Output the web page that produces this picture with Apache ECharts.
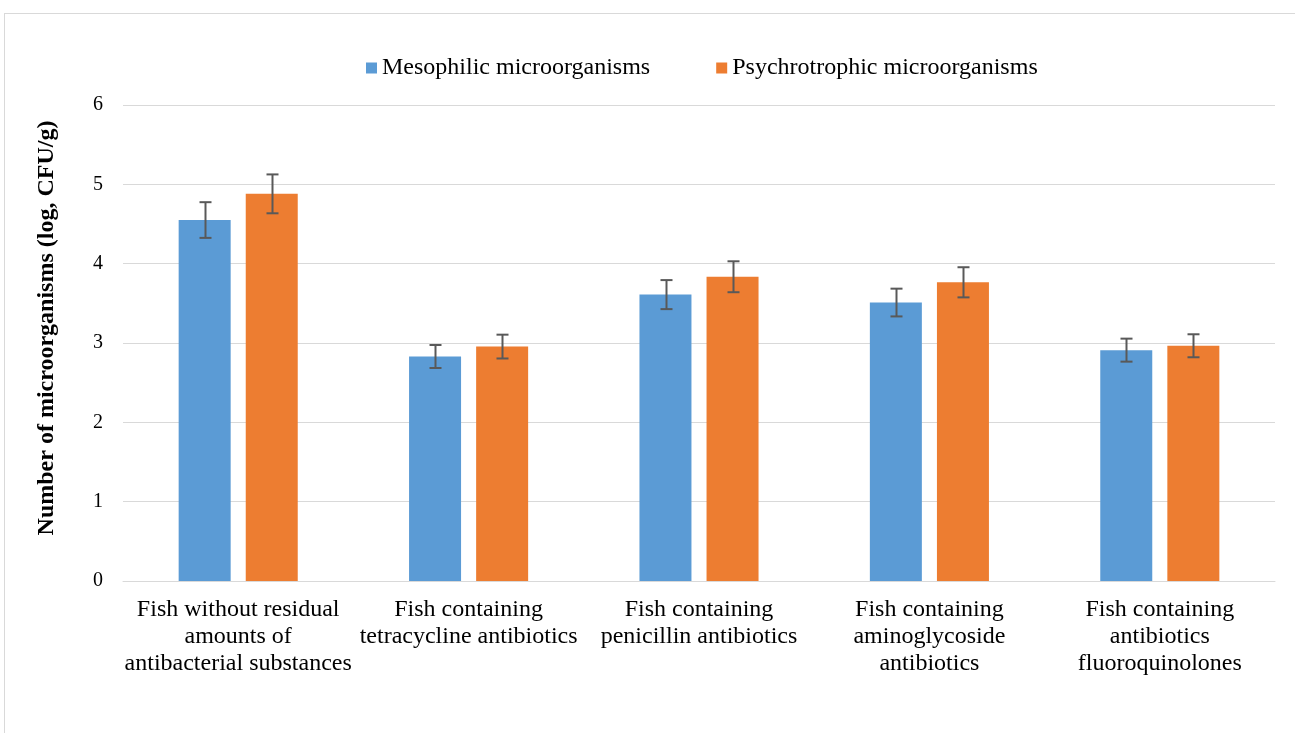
<!DOCTYPE html>
<html><head><meta charset="utf-8">
<script src="https://cdn.jsdelivr.net/npm/echarts@6/dist/echarts.min.js"></script>
<style>
html,body{margin:0;padding:0;background:#fff;}
#frame{position:absolute;left:4px;top:13px;width:1295px;height:730px;border:1px solid #d9d9d9;box-sizing:border-box;}
#c{position:absolute;left:0;top:0;width:1295px;height:733px;}
</style></head>
<body>
<div id="frame"></div>
<div id="c"></div>
<script>
const categories = [
  "Fish without residual\namounts of\nantibacterial substances",
  "Fish containing\ntetracycline antibiotics",
  "Fish containing\npenicillin antibiotics",
  "Fish containing\naminoglycoside\nantibiotics",
  "Fish containing\nantibiotics\nfluoroquinolones"
];
const seriesNames = ["Mesophilic microorganisms", "Psychrotrophic microorganisms"];
const mesophilic = [4.55, 2.83, 3.61, 3.51, 2.91];
const mesophilicErr = [0.225, 0.145, 0.183, 0.175, 0.145];
const psychrotrophic = [4.88, 2.955, 3.835, 3.765, 2.965];
const psychrotrophicErr = [0.245, 0.15, 0.195, 0.19, 0.145];
const yTicks = [0, 1, 2, 3, 4, 5, 6];

const colors = ["#5b9bd5", "#ed7d31"];
const chart = echarts.init(document.getElementById('c'));

function errSeries(values, errs, idx) {
  const data = values.map((v, i) => [i, v - errs[i], v + errs[i]]);
  return {
    type: 'custom',
    name: 'err' + idx,
    z: 10,
    silent: true,
    renderItem: function (params, api) {
      const ci = api.value(0);
      const lo = api.coord([ci, api.value(1)]);
      const hi = api.coord([ci, api.value(2)]);
      const barW = 52, gap = 15;
      const offset = (idx === 0 ? -1 : 1) * (barW + gap) / 2;
      const x = Math.round(lo[0] + offset) + 0.5;
      const cap = 6;
      const style = { stroke: '#595959', lineWidth: 2 };
      return {
        type: 'group',
        children: [
          { type: 'line', shape: { x1: x, y1: lo[1], x2: x, y2: hi[1] }, style: style },
          { type: 'line', shape: { x1: x - cap, y1: lo[1], x2: x + cap, y2: lo[1] }, style: style },
          { type: 'line', shape: { x1: x - cap, y1: hi[1], x2: x + cap, y2: hi[1] }, style: style }
        ]
      };
    },
    data: data
  };
}

chart.setOption({
  animation: false,
  textStyle: { fontFamily: 'Liberation Serif' },
  legend: {
    data: seriesNames,
    top: 51,
    left: 361,
    itemWidth: 11,
    itemHeight: 11,
    itemGap: 66,
    icon: 'rect',
    textStyle: { fontSize: 24, color: '#000', fontFamily: 'Liberation Serif' }
  },
  grid: { left: 123, right: 20, top: 105, bottom: 152, containLabel: false },
  xAxis: {
    type: 'category',
    data: categories,
    axisLine: { lineStyle: { color: '#d9d9d9', width: 1 } },
    axisTick: { show: false },
    axisLabel: {
      interval: 0,
      color: '#000',
      fontSize: 24,
      lineHeight: 27,
      margin: 15,
      fontFamily: 'Liberation Serif'
    }
  },
  yAxis: {
    type: 'value',
    min: 0, max: 6, interval: 1,
    name: 'Number of microorganisms (log, CFU/g)',
    nameLocation: 'middle',
    nameGap: 64,
    nameTextStyle: { fontSize: 24, fontWeight: 'bold', color: '#000', fontFamily: 'Liberation Serif', padding: [0, 0, 0, 30] },
    axisLine: { show: false },
    axisTick: { show: false },
    splitLine: { lineStyle: { color: '#d9d9d9', width: 1 } },
    axisLabel: {
      color: '#000', fontSize: 20, margin: 20, fontFamily: 'Liberation Serif',
      formatter: function (v) { return yTicks.indexOf(v) >= 0 ? String(v) : ''; }
    }
  },
  series: [
    { name: seriesNames[0], type: 'bar', data: mesophilic, barWidth: 52, barGap: '29%', itemStyle: { color: colors[0] } },
    { name: seriesNames[1], type: 'bar', data: psychrotrophic, barWidth: 52, barGap: '29%', itemStyle: { color: colors[1] } },
    errSeries(mesophilic, mesophilicErr, 0),
    errSeries(psychrotrophic, psychrotrophicErr, 1)
  ]
});
</script>
</body></html>
